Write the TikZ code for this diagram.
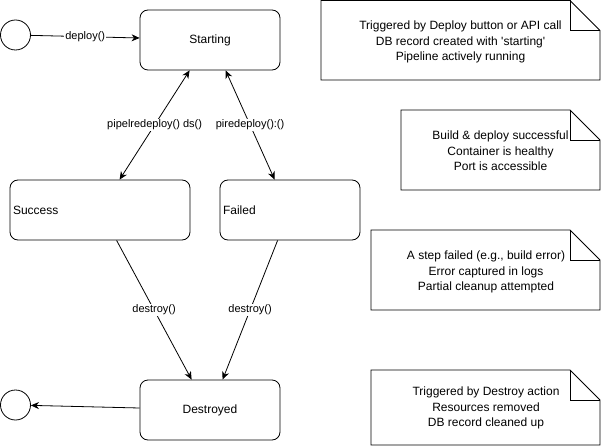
\documentclass[tikz,border=0pt]{standalone}
\usepackage{fontspec}
\setmainfont{Liberation Sans}
\usetikzlibrary{arrows.meta,calc}
\newcommand\notebox[4]{%
  \draw[line width=0.8pt, fill=white] (#1,#2) -- (#3-30,#2) -- (#3,#2+30) -- (#3,#4) -- (#1,#4) -- cycle;
  \draw[line width=0.8pt] (#3-30,#2) -- (#3-30,#2+30) -- (#3,#2+30);}
\begin{document}
\begin{tikzpicture}[x=1pt,y=-1pt,
  state/.style={draw, rounded corners=8pt, minimum width=140pt, minimum height=60pt, inner sep=0pt, font=\fontsize{12}{14}\selectfont, line width=0.8pt},
  pseudo/.style={draw, circle, minimum size=30pt, inner sep=0pt, line width=0.8pt},
  tip/.style={Stealth[length=8pt,width=7pt,inset=2.5pt]},
  conn/.style={line width=0.8pt, -{Stealth[length=8pt,width=7pt,inset=2.5pt]}},
  biconn/.style={line width=0.8pt, {Stealth[length=8pt,width=7pt,inset=2.5pt]}-{Stealth[length=8pt,width=7pt,inset=2.5pt]}},
  lbl/.style={fill=white, inner sep=1pt, font=\fontsize{11}{13}\selectfont},
  notetxt/.style={align=center, font=\fontsize{12}{15.5}\selectfont, inner sep=0pt}]
\useasboundingbox (0,0) rectangle (601,446);

% notes
\notebox{321}{0.5}{600}{80}
\node[notetxt] (n1) at (460.5,42) {Triggered by Deploy button or API call\\DB record created with \textquotesingle starting\textquotesingle\\Pipeline actively running};
\notebox{401}{110}{600}{190}
\node[notetxt] (n2) at (500.5,151) {Build \& deploy successful\\Container is healthy\\Port is accessible};
\notebox{371}{230}{600}{310}
\node[notetxt] (n3) at (486,272) {A step failed (e.g., build error)\\Error captured in logs\\Partial cleanup attempted};
\notebox{371}{370}{600}{445}
\node[notetxt] (n4) at (486,408) {Triggered by Destroy action\\Resources removed\\DB record cleaned up};

% states
\node[pseudo] (init) at (15.5,35) {};
\node[state] (start) at (210,40) {Starting};
\node[state, minimum width=180pt, text width=174pt, align=left] (succ) at (100,210) {Success};
\node[state, text width=134pt, align=left] (fail) at (290,210) {Failed};
\node[state] (dest) at (210,410) {Destroyed};
\node[pseudo] (final) at (15.5,405) {};

% connectors
\draw[conn] (init) -- node[lbl]{deploy()} ([yshift=2pt]start.west);
\draw[biconn] ([xshift=50pt]start.south west) -- node[lbl]{pipelredeploy() ds()} ([xshift=110pt]succ.north west);
\draw[biconn] ([xshift=86pt]start.south west) -- node[lbl]{piredeploy():()} ([xshift=55pt]fail.north west);
\draw[conn] ([xshift=107pt]succ.south west) -- node[lbl]{destroy()} ([xshift=52pt]dest.north west);
\draw[conn] ([xshift=58pt]fail.south west) -- node[lbl]{destroy()} ([xshift=83pt]dest.north west);
\draw[conn] ([yshift=2pt]dest.west) -- (final);
\end{tikzpicture}
\end{document}
